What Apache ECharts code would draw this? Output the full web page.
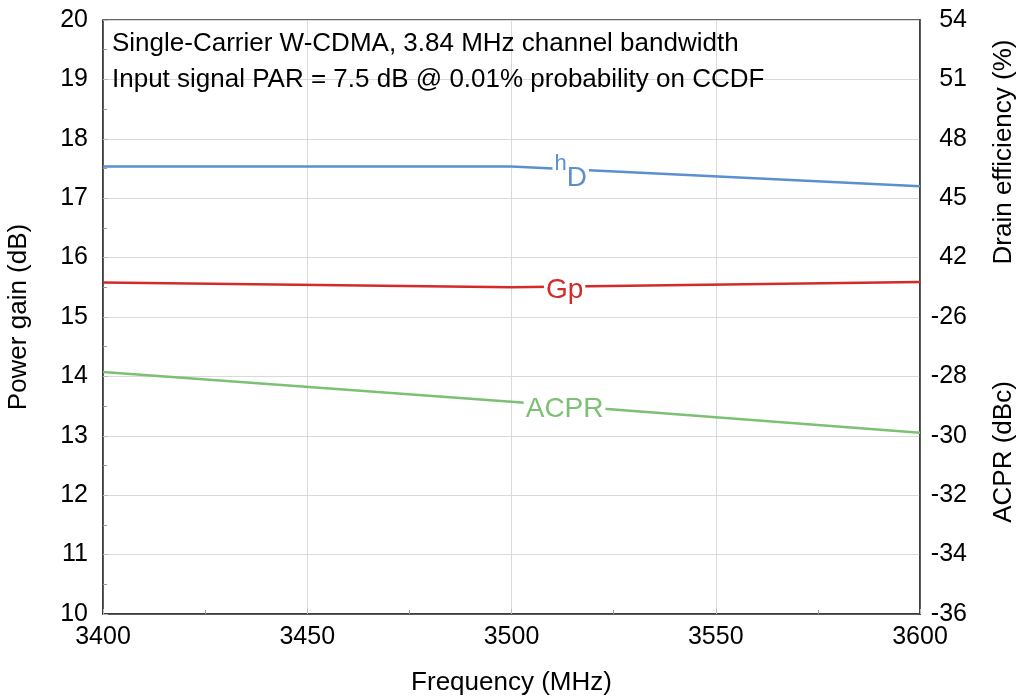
<!DOCTYPE html>
<html><head><meta charset="utf-8">
<script src="https://cdn.jsdelivr.net/npm/echarts@6/dist/echarts.min.js"></script>
<style>html,body{margin:0;padding:0;background:#fff}#c{width:1018px;height:698px}</style>
</head><body><div id="c"></div>
<script>
const freq = [3400, 3500, 3600];
const effData = [46.6, 46.6, 45.6];
const gainData = [15.58, 15.50, 15.59];
const acprData = [-27.85, -28.85, -29.9];
const rightTickLabels = ['-36','-34','-32','-30','-28','-26','42','45','48','51','54'];

const FONT = 'Liberation Sans, Arial, sans-serif';
const chart = echarts.init(document.getElementById('c'));
const pair = (ys) => freq.map((f, i) => [f, ys[i]]);
const axisTxt = {fontFamily: FONT, fontSize: 25, color: '#000'};

chart.setOption({
  animation: false,
  grid: {left: 103, right: 98, top: 20, bottom: 84, containLabel: false, outerBoundsMode: 'none',
         show: true, borderColor: '#333', borderWidth: 1.5, backgroundColor: 'transparent'},
  title: {
    text: 'Single-Carrier W-CDMA, 3.84 MHz channel bandwidth\nInput signal PAR = 7.5 dB @ 0.01% probability on CCDF',
    left: 107, top: 21,
    textStyle: {fontFamily: FONT, fontSize: 26, fontWeight: 'normal', color: '#000', lineHeight: 36}
  },
  xAxis: {
    type: 'value', min: 3400, max: 3600, interval: 50,
    name: 'Frequency (MHz)', nameLocation: 'middle', nameGap: 56,
    nameTextStyle: {fontFamily: FONT, fontSize: 26, color: '#000'},
    axisLine: {show: true, lineStyle: {color: '#333', width: 1.5}},
    axisTick: {show: true, inside: true, length: 5, lineStyle: {color: '#bbb'}},
    minorTick: {show: true, splitNumber: 2, length: 4, lineStyle: {color: '#999'}},
    axisLabel: Object.assign({margin: 11, formatter: v => String(v)}, axisTxt),
    splitLine: {show: true, lineStyle: {color: '#d9d9d9', width: 1}}
  },
  yAxis: [
    {
      type: 'value', min: 10, max: 20, interval: 1, position: 'left',
      name: 'Power gain (dB)', nameLocation: 'middle', nameGap: 71,
      nameTextStyle: {fontFamily: FONT, fontSize: 26, color: '#000'},
      axisLine: {show: true, lineStyle: {color: '#333', width: 1.5}},
      axisTick: {show: true, inside: true, length: 5, lineStyle: {color: '#bbb'}},
      minorTick: {show: true, splitNumber: 2, length: 4, lineStyle: {color: '#999'}},
      axisLabel: Object.assign({margin: 15}, axisTxt),
      splitLine: {show: true, lineStyle: {color: '#d9d9d9', width: 1}}
    },
    {
      type: 'value', min: 10, max: 20, interval: 1, position: 'right',
      axisLine: {show: true, lineStyle: {color: '#333', width: 1.5}},
      axisTick: {show: false},
      axisLabel: Object.assign({margin: 47, align: 'right', formatter: v => rightTickLabels[Math.round(v - 10)]}, axisTxt),
      splitLine: {show: false}
    },
    {type: 'value', min: 24, max: 54, show: false, splitLine: {show: false}},
    {type: 'value', min: -36, max: -16, show: false, splitLine: {show: false}}
  ],
  graphic: [
    {type: 'text', x: 1004, y: 152, rotation: Math.PI / 2,
     style: {text: 'Drain efficiency (%)', fontFamily: FONT, fontSize: 26, fill: '#000', align: 'center', verticalAlign: 'middle'}},
    {type: 'text', x: 1004, y: 452, rotation: Math.PI / 2,
     style: {text: 'ACPR (dBc)', fontFamily: FONT, fontSize: 26, fill: '#000', align: 'center', verticalAlign: 'middle'}}
  ],
  series: [
    {
      type: 'line', yAxisIndex: 2, data: pair(effData), symbol: 'none',
      lineStyle: {color: '#5b8fd0', width: 2.5}, z: 3,
      markPoint: {
        symbol: 'rect', symbolSize: [1, 1], itemStyle: {color: 'transparent'},
        data: [{coord: [3514.5, 46.3], label: {
          show: true, position: 'inside', formatter: '{a|h}{b|D}',
          backgroundColor: '#fff', padding: [0, 2],
          rich: {
            a: {fontFamily: FONT, fontSize: 22, color: '#5b8fd0', verticalAlign: 'top', padding: [0, 0, 14, 0]},
            b: {fontFamily: FONT, fontSize: 28, color: '#5b8fd0', verticalAlign: 'bottom', padding: [12, 0, 0, 0]}
          }
        }}]
      }
    },
    {
      type: 'line', yAxisIndex: 0, data: pair(gainData), symbol: 'none',
      lineStyle: {color: '#d42a2a', width: 2.5}, z: 3,
      markPoint: {
        symbol: 'rect', symbolSize: [1, 1], itemStyle: {color: 'transparent'},
        data: [{coord: [3513, 15.45], label: {
          show: true, position: 'inside', formatter: 'Gp', backgroundColor: '#fff', padding: [0, 2],
          fontFamily: FONT, fontSize: 28, color: '#d42a2a'
        }}]
      }
    },
    {
      type: 'line', yAxisIndex: 3, data: pair(acprData), symbol: 'none',
      lineStyle: {color: '#7cc073', width: 2.5}, z: 3,
      markPoint: {
        symbol: 'rect', symbolSize: [1, 1], itemStyle: {color: 'transparent'},
        data: [{coord: [3513, -29.1], label: {
          show: true, position: 'inside', formatter: 'ACPR', backgroundColor: '#fff', padding: [0, 2],
          fontFamily: FONT, fontSize: 28, color: '#7cc073'
        }}]
      }
    }
  ]
});
</script></body></html>
